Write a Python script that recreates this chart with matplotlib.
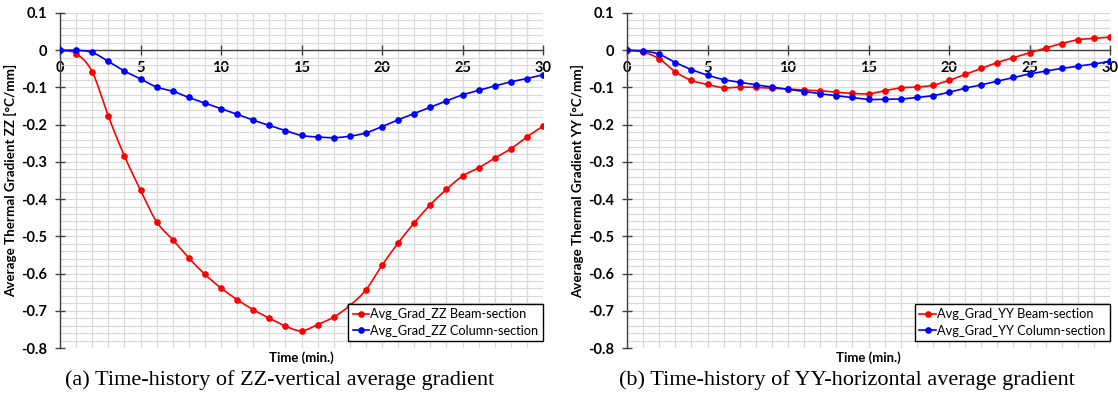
import numpy as np
import matplotlib
matplotlib.use('Agg')
import matplotlib.pyplot as plt
from matplotlib.ticker import MultipleLocator

# gradient histories, one value per minute
time_min = list(range(31))

zz_beam = [0, -0.009, -0.058, -0.177, -0.284, -0.376, -0.461, -0.509, -0.558, -0.602,
           -0.639, -0.670, -0.697, -0.720, -0.741, -0.754, -0.737, -0.717, -0.686, -0.644,
           -0.578, -0.518, -0.464, -0.415, -0.374, -0.338, -0.316, -0.290, -0.265, -0.233,
           -0.204]
zz_column = [0, 0.000, -0.006, -0.030, -0.056, -0.077, -0.099, -0.110, -0.127, -0.142,
             -0.157, -0.172, -0.188, -0.202, -0.216, -0.229, -0.233, -0.235, -0.231, -0.222,
             -0.205, -0.187, -0.170, -0.153, -0.136, -0.120, -0.108, -0.096, -0.085, -0.076,
             -0.066]
yy_beam = [0, -0.005, -0.023, -0.058, -0.081, -0.092, -0.101, -0.099, -0.100, -0.102,
           -0.104, -0.107, -0.109, -0.113, -0.116, -0.117, -0.109, -0.101, -0.099, -0.094,
           -0.081, -0.065, -0.049, -0.033, -0.020, -0.007, 0.006, 0.018, 0.028, 0.032,
           0.035]
yy_column = [0, -0.002, -0.011, -0.033, -0.052, -0.067, -0.079, -0.086, -0.093, -0.099,
             -0.105, -0.111, -0.117, -0.122, -0.127, -0.132, -0.132, -0.131, -0.127, -0.122,
             -0.113, -0.102, -0.093, -0.083, -0.073, -0.064, -0.056, -0.049, -0.043, -0.037,
             -0.030]

plt.rcParams['font.family'] = ['Lato', 'DejaVu Sans']
AXIS_COLOR = '#404040'
GRID_COLOR = '#d9d9d9'


def smooth(x, y, n=10):
    # cardinal spline through the points, like a spreadsheet "smoothed line"
    x = np.asarray(x, float)
    y = np.asarray(y, float)
    xp = np.concatenate([[2 * x[0] - x[1]], x, [2 * x[-1] - x[-2]]])
    yp = np.concatenate([[2 * y[0] - y[1]], y, [2 * y[-1] - y[-2]]])
    xs, ys = [], []
    t = np.linspace(0, 1, n, endpoint=False)
    h00 = 2 * t**3 - 3 * t**2 + 1
    h10 = t**3 - 2 * t**2 + t
    h01 = -2 * t**3 + 3 * t**2
    h11 = t**3 - t**2
    for i in range(1, len(x)):
        mx0 = (xp[i + 1] - xp[i - 1]) / 2
        mx1 = (xp[i + 2] - xp[i]) / 2
        my0 = (yp[i + 1] - yp[i - 1]) / 2
        my1 = (yp[i + 2] - yp[i]) / 2
        xs.append(h00 * xp[i] + h10 * mx0 + h01 * xp[i + 1] + h11 * mx1)
        ys.append(h00 * yp[i] + h10 * my0 + h01 * yp[i + 1] + h11 * my1)
    xs.append([x[-1]])
    ys.append([y[-1]])
    return np.concatenate(xs), np.concatenate(ys)


def draw_panel(ax, beam, column, tag, caption):
    for data, color, name in [(beam, '#ff0000', 'Beam-section'),
                              (column, '#0000ff', 'Column-section')]:
        sx, sy = smooth(time_min, data)
        ax.plot(sx, sy, color=color, lw=1.2, zorder=3)
        ax.plot(time_min, data, 'o', color=color, ms=3.8, zorder=4)
        ax.plot([], [], '-o', color=color, lw=1.2, ms=3.8,
                label='Avg_Grad_%s %s' % (tag, name))

    ax.set_xlim(0, 30)
    ax.set_ylim(-0.8, 0.1)
    ax.xaxis.set_major_locator(MultipleLocator(5))
    ax.xaxis.set_minor_locator(MultipleLocator(1))
    ax.yaxis.set_major_locator(MultipleLocator(0.1))
    ax.yaxis.set_minor_locator(MultipleLocator(0.02))
    ax.yaxis.set_major_formatter(plt.FuncFormatter(
        lambda v, p: '0' if abs(v) < 1e-9 else ('%.1f' % v)))
    ax.grid(True, which='both', color=GRID_COLOR, lw=0.9, zorder=0)
    ax.set_axisbelow(True)

    ax.spines['bottom'].set_position(('data', 0))
    ax.spines['top'].set_visible(False)
    ax.spines['right'].set_visible(False)
    for s in ('left', 'bottom'):
        ax.spines[s].set_color(AXIS_COLOR)
        ax.spines[s].set_linewidth(1.0)
        ax.spines[s].set_zorder(2)

    ax.tick_params(which='major', direction='inout', length=7, width=1.0,
                   color=AXIS_COLOR, labelsize=10.5)
    ax.tick_params(axis='x', which='major', pad=4)
    ax.tick_params(axis='y', which='major', pad=6)
    ax.tick_params(which='minor', length=0)
    for lab in ax.get_xticklabels() + ax.get_yticklabels():
        lab.set_fontweight('bold')

    ax.set_ylabel('Average Thermal Gradient %s [°C/mm]' % tag,
                  fontsize=9.6, fontweight='bold')
    ax.yaxis.set_label_coords(-0.088, 0.5)

    leg = ax.legend(loc='lower right', bbox_to_anchor=(1.0, 0.02), fontsize=9.2,
                    frameon=True, fancybox=False, edgecolor='black',
                    framealpha=1, handlelength=1.3, handletextpad=0.1,
                    borderpad=0.35, borderaxespad=0, labelspacing=0.35)
    leg.get_frame().set_linewidth(1.0)

    pos = ax.get_position()
    cx = (pos.x0 + pos.x1) / 2
    fig.text(cx, 1 - 358 / 395, 'Time (min.)', ha='center', va='center',
             fontsize=9.5, fontweight='bold')
    fig.text(cx - 22 / 1118, 1 - 380 / 395, caption, ha='center', va='center',
             fontsize=16, family='Liberation Serif')


fig = plt.figure(figsize=(11.18, 3.95), dpi=100)
ax1 = fig.add_axes([60 / 1118, 1 - 348 / 395, 483 / 1118, 335 / 395])
ax2 = fig.add_axes([627 / 1118, 1 - 348 / 395, 483 / 1118, 335 / 395])

draw_panel(ax1, zz_beam, zz_column, 'ZZ',
           '(a) Time-history of ZZ-vertical average gradient')
draw_panel(ax2, yy_beam, yy_column, 'YY',
           '(b) Time-history of YY-horizontal average gradient')

fig.savefig('out.png', dpi=100)
